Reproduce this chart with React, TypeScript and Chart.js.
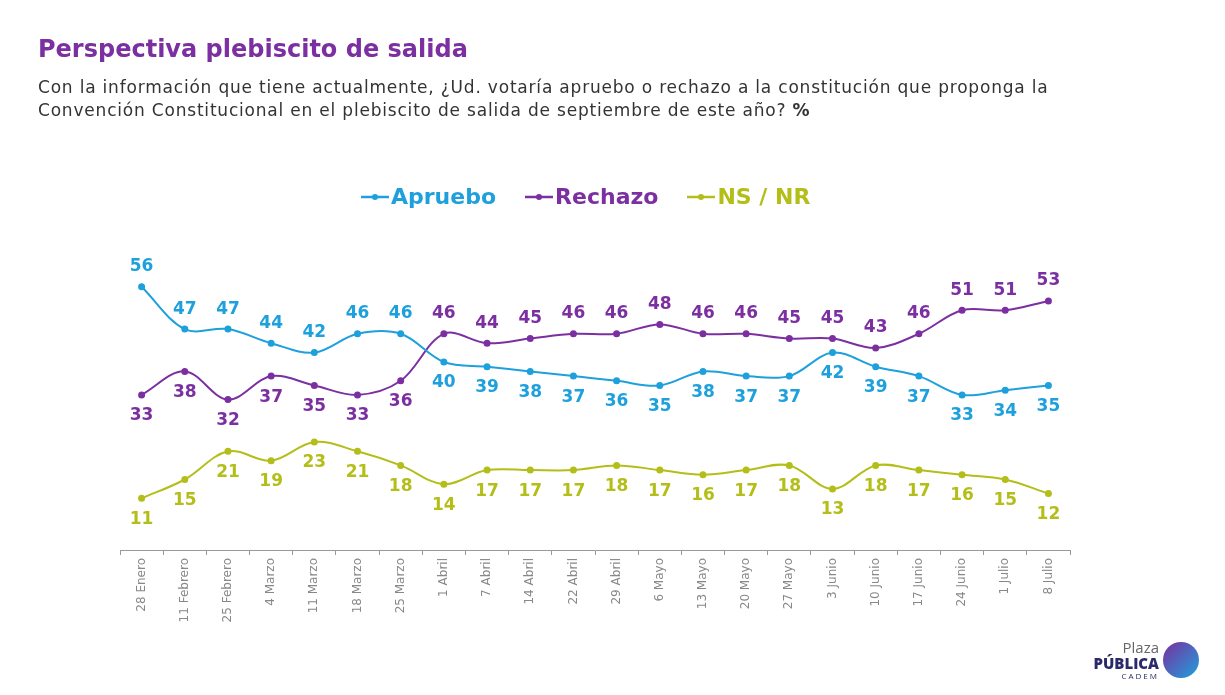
import React, { useEffect, useRef } from "react";
import { Chart, registerables } from "chart.js";
Chart.register(...registerables);

const categories = ["28 Enero","11 Febrero","25 Febrero","4 Marzo","11 Marzo","18 Marzo","25 Marzo","1 Abril","7 Abril","14 Abril","22 Abril","29 Abril","6 Mayo","13 Mayo","20 Mayo","27 Mayo","3 Junio","10 Junio","17 Junio","24 Junio","1 Julio","8 Julio"];
const apruebo = [56,47,47,44,42,46,46,40,39,38,37,36,35,38,37,37,42,39,37,33,34,35];
const rechazo = [33,38,32,37,35,33,36,46,44,45,46,46,48,46,46,45,45,43,46,51,51,53];
const nsnr = [11,15,21,19,23,21,18,14,17,17,17,18,17,16,17,18,13,18,17,16,15,12];

const BLUE = "#1ea0dc";
const PURPLE = "#7b2fa0";
const OLIVE = "#b4be19";

const labelPlugin = {
  id: "vlabels",
  afterDatasetsDraw(chart: any) {
    const ctx = chart.ctx;
    ctx.save();
    ctx.font = "bold 17px 'DejaVu Sans', sans-serif";
    ctx.textAlign = "center";
    ctx.textBaseline = "middle";
    chart.data.datasets.forEach((ds: any, di: number) => {
      const meta = chart.getDatasetMeta(di);
      ctx.fillStyle = ds.borderColor;
      meta.data.forEach((pt: any, i: number) => {
        let above: boolean;
        if (di === 0) above = i < 7;
        else if (di === 1) above = i >= 7;
        else above = false;
        const y = above ? pt.y - 20 : pt.y + 21;
        ctx.fillText(String(ds.data[i]), pt.x, y);
      });
    });
    ctx.restore();
  },
};

export default function App() {
  const ref = useRef<HTMLCanvasElement>(null);
  useEffect(() => {
    const mk = (label: string, data: number[], color: string) => ({
      label, data, borderColor: color, backgroundColor: color,
      borderWidth: 2, pointRadius: 2.5, tension: 0.35,
    });
    const chart = new Chart(ref.current!, {
      type: "line",
      data: {
        labels: categories,
        datasets: [mk("Apruebo", apruebo, BLUE), mk("Rechazo", rechazo, PURPLE), mk("NS / NR", nsnr, OLIVE)],
      },
      options: {
        animation: false,
        responsive: false,
        layout: { padding: { left: 120, right: 155, top: 268, bottom: 45 } },
        plugins: { legend: { display: false }, tooltip: { enabled: false } },
        scales: {
          y: { display: false, min: 0, max: 60 },
          x: {
            offset: true,
            afterFit: (s: any) => { s.height = 100; },
            grid: { display: true, drawOnChartArea: false, offset: true, tickLength: 5, color: "#999" },
            border: { display: true, color: "#999", width: 1 },
            ticks: { maxRotation: 90, minRotation: 90, color: "#888", font: { family: "'DejaVu Sans', sans-serif", size: 12 }, autoSkip: false },
          },
        },
      },
      plugins: [labelPlugin],
    });
    return () => chart.destroy();
  }, []);
  const font = "'DejaVu Sans', sans-serif";
  const leg = (t: string, c: string) => (
    <span style={{ display: "inline-flex", alignItems: "center", marginRight: 28, color: c, fontWeight: 700, fontSize: 22 }}>
      <svg width="30" height="10" style={{ marginRight: 1 }}><line x1="1" y1="5" x2="29" y2="5" stroke={c} strokeWidth="2.5" /><circle cx="15" cy="5" r="3" fill={c} /></svg>
      {t}
    </span>
  );
  return (
    <div style={{ position: "fixed", left: 0, top: 0, width: 1225, height: 695, background: "#fff", fontFamily: font }}>
      <canvas ref={ref} width={1225} height={695} style={{ position: "absolute", left: 0, top: 0 }} />
      <div style={{ position: "absolute", left: 38, top: 35, fontSize: 24, fontWeight: 700, color: "#7b2fa0" }}>Perspectiva plebiscito de salida</div>
      <div style={{ position: "absolute", left: 38, top: 76, fontSize: 17, color: "#333", lineHeight: "23px", width: 1150, whiteSpace: "nowrap", letterSpacing: 0.8 }}>
        Con la información que tiene actualmente, ¿Ud. votaría apruebo o rechazo a la constitución que proponga la<br />
        Convención Constitucional en el plebiscito de salida de septiembre de este año? <b>%</b>
      </div>
      <div style={{ position: "absolute", left: 360, top: 184, display: "flex" }}>
        {leg("Apruebo", BLUE)}{leg("Rechazo", PURPLE)}{leg("NS / NR", OLIVE)}
      </div>
      <div style={{ position: "absolute", right: 66, top: 640, textAlign: "right", lineHeight: 1.05, fontFamily: "'Open Sans', sans-serif" }}>
        <div style={{ fontSize: 15, color: "#666" }}>Plaza</div>
        <div style={{ fontSize: 15, fontWeight: 800, color: "#2a2a6a" }}>PÚBLICA</div>
        <div style={{ fontSize: 8, color: "#2a2a6a", letterSpacing: 2 }}>CADEM</div>
      </div>
      <div style={{ position: "absolute", left: 1163, top: 642, width: 36, height: 36, borderRadius: "50%", background: "linear-gradient(135deg,#7b2fa0,#1ea0dc)" }} />
    </div>
  );
}
